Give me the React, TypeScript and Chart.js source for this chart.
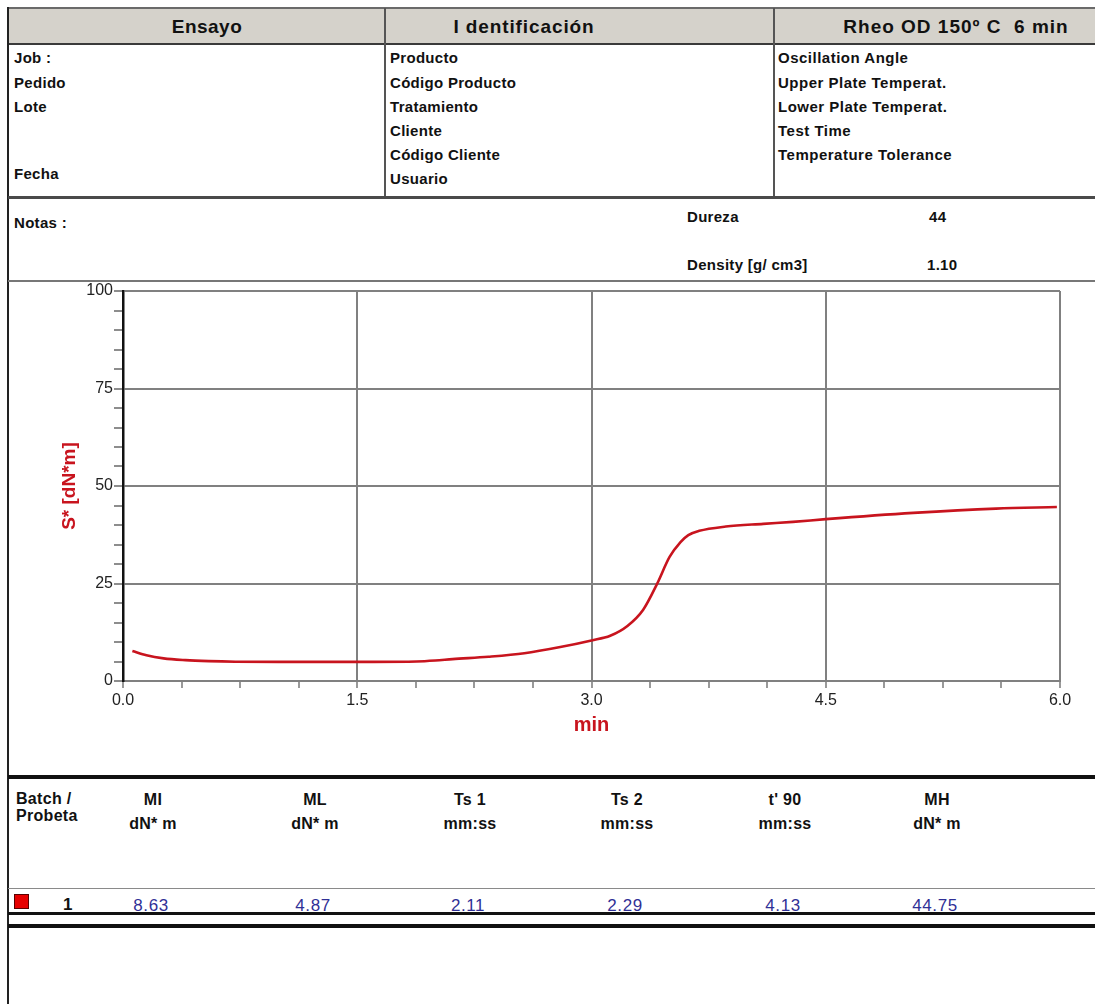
import React, { useEffect, useRef } from "react";
import { Chart, registerables } from "chart.js";

Chart.register(...registerables);

// ---- chart data ----
const timeMin = [0.06, 0.15, 0.26, 0.4, 0.55, 0.72, 1.0, 1.3, 1.6, 1.88, 2.0, 2.11, 2.34, 2.57, 2.8, 3.0, 3.12, 3.23, 3.33, 3.42, 3.5, 3.57, 3.62, 3.69, 3.86, 4.1, 4.29, 4.5, 5.06, 5.59, 5.98];
const torque = [7.7, 6.6, 5.8, 5.35, 5.1, 4.95, 4.9, 4.9, 4.9, 5.0, 5.25, 5.6, 6.2, 7.1, 8.7, 10.4, 11.6, 14.1, 18.2, 24.9, 31.8, 35.6, 37.4, 38.5, 39.6, 40.3, 40.8, 41.5, 43.1, 44.2, 44.6];
const xMajorTicks = [0, 1.5, 3, 4.5, 6];
const xTickLabels = ["0.0", "1.5", "3.0", "4.5", "6.0"];
const yMajorTicks = [0, 25, 50, 75, 100];
const yTickLabels = ["0", "25", "50", "75", "100"];
const xTitle = "min";
const yTitle = "S* [dN*m]";

// ---- report text ----
const headerTitles = ["Ensayo", "I dentificación", "Rheo OD 150º C  6 min"];
const ensayoFields = ["Job :", "Pedido", "Lote"];
const identFields = ["Producto", "Código Producto", "Tratamiento", "Cliente", "Código Cliente", "Usuario"];
const rheoFields = ["Oscillation Angle", "Upper Plate Temperat.", "Lower Plate Temperat.", "Test Time", "Temperature Tolerance"];
const propLabels = ["Dureza", "Density [g/ cm3]"];
const propValues = ["44", "1.10"];
const tableCols = ["MI", "ML", "Ts 1", "Ts 2", "t' 90", "MH"];
const tableUnits = ["dN* m", "dN* m", "mm:ss", "mm:ss", "mm:ss", "dN* m"];
const batchValues = ["8.63", "4.87", "2.11", "2.29", "4.13", "44.75"];
const batchId = "1";

// ---- layout constants ----
const FONT = "'Liberation Sans', Arial, Helvetica, sans-serif";
const RED = "#c8141e";
const rowY = [57, 82, 106, 130, 154, 178];
const headerX = [207, 524, 956];
const headerLs = [0.5, 0.9, 1.0];
const colX = [153, 315, 470, 627, 785, 937];

type TProps = {
  x: number; y: number; size: number; bold?: boolean; align?: "left" | "center";
  color?: string; ls?: number; children: React.ReactNode;
};
function T({ x, y, size, bold = true, align = "left", color = "#111", ls = 0.3, children }: TProps) {
  return (
    <div
      style={{
        position: "absolute", left: x, top: y, whiteSpace: "pre",
        transform: align === "center" ? "translate(-50%,-50%)" : "translateY(-50%)",
        fontFamily: FONT, fontSize: size, fontWeight: bold ? 700 : 400, lineHeight: 1,
        color, letterSpacing: ls, zIndex: 2,
      }}
    >
      {children}
    </div>
  );
}
function HLine({ y, h, color, x = 8, w = 1087 }: { y: number; h: number; color: string; x?: number; w?: number }) {
  return <div style={{ position: "absolute", left: x, top: y, width: w, height: h, background: color, zIndex: 3 }} />;
}
function VLine({ x, y, h, w, color }: { x: number; y: number; h: number; w: number; color: string }) {
  return <div style={{ position: "absolute", left: x, top: y, width: w, height: h, background: color, zIndex: 3 }} />;
}

function RheoChart() {
  const ref = useRef<HTMLCanvasElement | null>(null);
  useEffect(() => {
    if (!ref.current) return;
    const isMajorX = (v: number) => xMajorTicks.some((m) => Math.abs(m - v) < 1e-6);
    const isMajorY = (v: number) => yMajorTicks.some((m) => Math.abs(m - v) < 1e-6);
    const chart = new Chart(ref.current, {
      type: "line",
      data: {
        datasets: [
          {
            data: timeMin.map((t, i) => ({ x: t, y: torque[i] })),
            borderColor: RED,
            borderWidth: 2.6,
            pointRadius: 0,
            fill: false,
            cubicInterpolationMode: "monotone",
          },
        ],
      },
      options: {
        animation: false,
        responsive: false,
        maintainAspectRatio: false,
        layout: { padding: { left: 0, right: 35, top: 11, bottom: 0 } },
        plugins: { legend: { display: false }, tooltip: { enabled: false } },
        scales: {
          x: {
            type: "linear",
            min: 0,
            max: 6,
            ticks: {
              stepSize: 0.375,
              autoSkip: false,
              maxRotation: 0,
              padding: 3,
              color: "#222",
              font: { family: FONT, size: 16 },
              callback: (v: any) => {
                const i = xMajorTicks.findIndex((m) => Math.abs(m - Number(v)) < 1e-6);
                return i >= 0 ? xTickLabels[i] : "";
              },
            },
            grid: {
              color: (c: any) => (c.tick && isMajorX(c.tick.value) ? "#808080" : "rgba(0,0,0,0)"),
              lineWidth: 2,
              tickColor: "#808080",
              tickLength: 7,
              tickWidth: 1.6,
              drawTicks: true,
            },
            border: { color: "#808080", width: 2 },
            title: {
              display: true,
              text: xTitle,
              color: RED,
              font: { family: FONT, size: 20, weight: "bold" },
              padding: { top: 0, bottom: 39 },
            },
            afterFit: (s: any) => {
              s.height = 95;
            },
          } as any,
          y: {
            type: "linear",
            min: 0,
            max: 100,
            ticks: {
              stepSize: 5,
              autoSkip: false,
              padding: 1,
              color: "#222",
              font: { family: FONT, size: 16 },
              callback: (v: any) => {
                const i = yMajorTicks.findIndex((m) => Math.abs(m - Number(v)) < 1e-6);
                return i >= 0 ? yTickLabels[i] : "";
              },
            },
            grid: {
              color: (c: any) => (c.tick && isMajorY(c.tick.value) ? "#808080" : "rgba(0,0,0,0)"),
              lineWidth: 2,
              tickColor: "#808080",
              tickLength: 9,
              tickWidth: 1.8,
              drawTicks: true,
            },
            border: { color: "#111", width: 2.5, z: 1 },
            title: {
              display: true,
              text: yTitle,
              color: RED,
              font: { family: FONT, size: 19, weight: "bold" },
              padding: { top: 58, bottom: 0 },
            },
            afterFit: (s: any) => {
              s.width = 123;
            },
          } as any,
        },
      },
    });
    return () => chart.destroy();
  }, []);
  return (
    <canvas
      ref={ref}
      width={1095}
      height={496}
      style={{ position: "absolute", left: 0, top: 280, width: 1095, height: 496, zIndex: 1 }}
    />
  );
}

export default function App() {
  return (
    <div
      style={{
        position: "absolute", left: 0, top: 0, width: 1095, height: 1004,
        overflow: "hidden", background: "#fff",
      }}
    >
      {/* header band */}
      <div style={{ position: "absolute", left: 8, top: 8, width: 1087, height: 36, background: "#d5d2cb" }} />
      <HLine y={7} h={2} color="#6a6a6a" />
      <HLine y={43} h={2} color="#3a3a3a" />
      <VLine x={7} y={7} h={997} w={2} color="#222" />
      <VLine x={384} y={8} h={189} w={1.5} color="#555" />
      <VLine x={773} y={8} h={189} w={1.5} color="#555" />
      {headerTitles.map((t, i) => (
        <T key={t} x={headerX[i]} y={26} size={19} align="center" ls={headerLs[i]}>{t}</T>
      ))}

      {/* info rows */}
      {ensayoFields.map((t, i) => (
        <T key={t} x={14} y={rowY[i]} size={15}>{t}</T>
      ))}
      <T x={14} y={173} size={15}>Fecha</T>
      {identFields.map((t, i) => (
        <T key={t} x={390} y={rowY[i]} size={15}>{t}</T>
      ))}
      {rheoFields.map((t, i) => (
        <T key={t} x={778} y={rowY[i]} size={15} ls={0.5}>{t}</T>
      ))}
      <HLine y={196} h={2.5} color="#4a4a4a" />

      {/* notes */}
      <T x={14} y={222} size={15}>Notas :</T>
      {propLabels.map((t, i) => (
        <T key={t} x={687} y={i === 0 ? 216 : 264} size={15}>{t}</T>
      ))}
      {propValues.map((t, i) => (
        <T key={t} x={i === 0 ? 929 : 927} y={i === 0 ? 216 : 264} size={15}>{t}</T>
      ))}
      <HLine y={280} h={1.5} color="#777" />

      {/* chart */}
      <RheoChart />

      {/* results table */}
      <HLine y={775} h={3.5} color="#111" />
      <T x={16} y={799} size={16}>Batch /</T>
      <T x={16} y={816} size={16}>Probeta</T>
      {tableCols.map((t, i) => (
        <T key={t} x={colX[i]} y={800} size={16} align="center">{t}</T>
      ))}
      {tableUnits.map((t, i) => (
        <T key={i} x={colX[i]} y={824} size={16} align="center">{t}</T>
      ))}
      <HLine y={888} h={1} color="#8a8a8a" />
      <div
        style={{
          position: "absolute", left: 14, top: 894, width: 13, height: 13,
          background: "#e60000", border: "1px solid #5a0000", zIndex: 2,
        }}
      />
      <T x={63} y={904} size={17}>{batchId}</T>
      {batchValues.map((t, i) => (
        <T key={i} x={colX[i] - 2} y={905} size={17} bold={false} align="center" color="#303096" ls={0.6}>{t}</T>
      ))}
      <HLine y={912} h={2.5} color="#111" />
      <HLine y={924} h={3.5} color="#111" />
    </div>
  );
}
